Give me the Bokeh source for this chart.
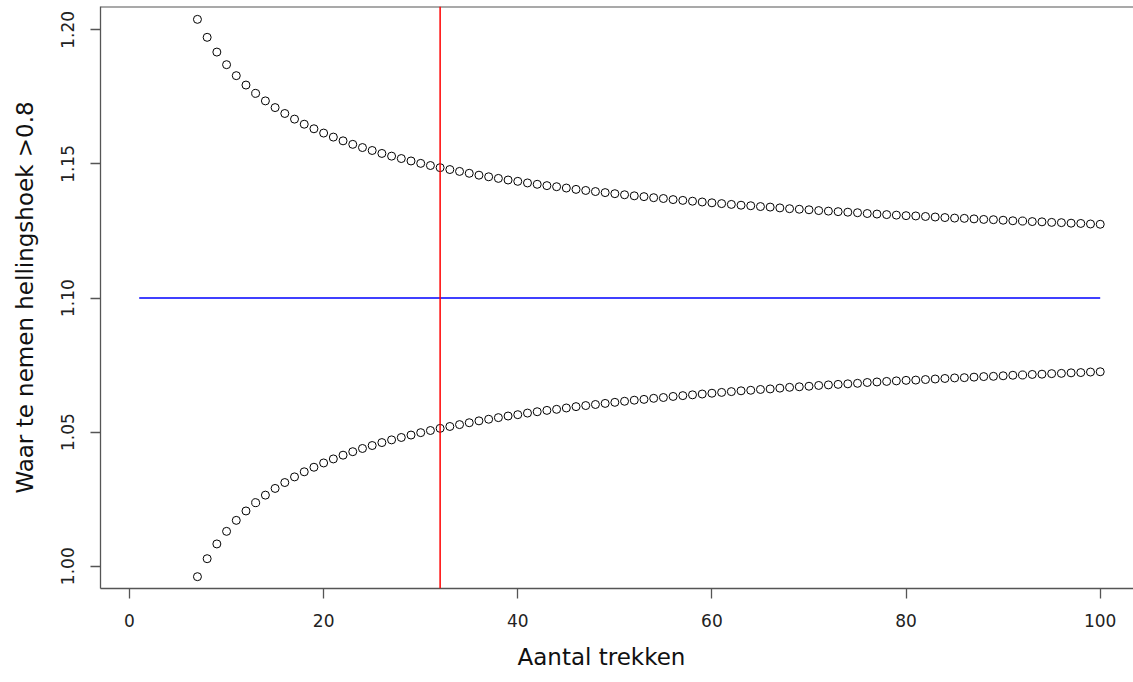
from bokeh.plotting import figure
from bokeh.models import Range1d, FixedTicker, LinearAxis, Span, CustomJSTickFormatter, Title
from bokeh.embed import file_html
from bokeh.resources import INLINE

# ---- data ----
trekken = [
    7, 8, 9, 10, 11, 12, 13, 14, 15, 16,
    17, 18, 19, 20, 21, 22, 23, 24, 25, 26,
    27, 28, 29, 30, 31, 32, 33, 34, 35, 36,
    37, 38, 39, 40, 41, 42, 43, 44, 45, 46,
    47, 48, 49, 50, 51, 52, 53, 54, 55, 56,
    57, 58, 59, 60, 61, 62, 63, 64, 65, 66,
    67, 68, 69, 70, 71, 72, 73, 74, 75, 76,
    77, 78, 79, 80, 81, 82, 83, 84, 85, 86,
    87, 88, 89, 90, 91, 92, 93, 94, 95, 96,
    97, 98, 99, 100,
]
bovengrens = [
    1.2039, 1.1972, 1.1917, 1.1870, 1.1829, 1.1794, 1.1763, 1.1735, 1.1710, 1.1688,
    1.1667, 1.1648, 1.1631, 1.1615, 1.1600, 1.1586, 1.1573, 1.1561, 1.1550, 1.1539,
    1.1529, 1.1520, 1.1511, 1.1502, 1.1494, 1.1486, 1.1479, 1.1472, 1.1465, 1.1458,
    1.1452, 1.1446, 1.1440, 1.1435, 1.1429, 1.1424, 1.1419, 1.1415, 1.1410, 1.1405,
    1.1401, 1.1397, 1.1393, 1.1389, 1.1385, 1.1381, 1.1378, 1.1374, 1.1371, 1.1367,
    1.1364, 1.1361, 1.1358, 1.1355, 1.1352, 1.1349, 1.1346, 1.1344, 1.1341, 1.1339,
    1.1336, 1.1333, 1.1331, 1.1329, 1.1326, 1.1324, 1.1322, 1.1320, 1.1318, 1.1315,
    1.1313, 1.1311, 1.1309, 1.1307, 1.1306, 1.1304, 1.1302, 1.1300, 1.1298, 1.1297,
    1.1295, 1.1293, 1.1292, 1.1290, 1.1288, 1.1287, 1.1285, 1.1284, 1.1282, 1.1281,
    1.1279, 1.1278, 1.1276, 1.1275,
]
ondergrens = [
    0.9961, 1.0028, 1.0083, 1.0130, 1.0171, 1.0206, 1.0237, 1.0265, 1.0290, 1.0312,
    1.0333, 1.0352, 1.0369, 1.0385, 1.0400, 1.0414, 1.0427, 1.0439, 1.0450, 1.0461,
    1.0471, 1.0480, 1.0489, 1.0498, 1.0506, 1.0514, 1.0521, 1.0528, 1.0535, 1.0542,
    1.0548, 1.0554, 1.0560, 1.0565, 1.0571, 1.0576, 1.0581, 1.0585, 1.0590, 1.0595,
    1.0599, 1.0603, 1.0607, 1.0611, 1.0615, 1.0619, 1.0622, 1.0626, 1.0629, 1.0633,
    1.0636, 1.0639, 1.0642, 1.0645, 1.0648, 1.0651, 1.0654, 1.0656, 1.0659, 1.0661,
    1.0664, 1.0667, 1.0669, 1.0671, 1.0674, 1.0676, 1.0678, 1.0680, 1.0682, 1.0685,
    1.0687, 1.0689, 1.0691, 1.0693, 1.0694, 1.0696, 1.0698, 1.0700, 1.0702, 1.0703,
    1.0705, 1.0707, 1.0708, 1.0710, 1.0712, 1.0713, 1.0715, 1.0716, 1.0718, 1.0719,
    1.0721, 1.0722, 1.0724, 1.0725,
]
ref_x = [1, 100]
ref_y = [1.1, 1.1]
grens_trekken = 32

x_ticks = [0, 20, 40, 60, 80, 100]
y_ticks = [1.00, 1.05, 1.10, 1.15, 1.20]
x_title = "Aantal trekken"
y_title = "Waar te nemen hellingshoek >0.8"

FONT = "DejaVu Sans"
AXIS_COL = "#555555"
Y_TOP = 1.20869

p = figure(
    width=1133, height=682,
    x_range=Range1d(-2.987, 103.43), y_range=Range1d(0.99169, Y_TOP),
    output_backend="svg", toolbar_location=None,
    x_axis_location=None, y_axis_location=None,
    min_border_left=100, min_border_right=0, min_border_top=6, min_border_bottom=94,
)
p.outline_line_color = None
p.xgrid.visible = False
p.ygrid.visible = False
p.background_fill_color = "white"
p.border_fill_color = "white"

xaxis = LinearAxis(ticker=FixedTicker(ticks=x_ticks))
yaxis = LinearAxis(ticker=FixedTicker(ticks=y_ticks), axis_label=y_title,
                   formatter=CustomJSTickFormatter(code="return tick.toFixed(2);"))
for ax in (xaxis, yaxis):
    ax.axis_line_color = AXIS_COL
    ax.axis_line_width = 1.3
    ax.major_tick_line_color = AXIS_COL
    ax.major_tick_line_width = 1.3
    ax.major_tick_in = 0
    ax.major_tick_out = 10
    ax.minor_tick_line_color = None
    ax.major_label_text_font = FONT
    ax.major_label_text_font_size = "17px"
    ax.major_label_text_color = "#222222"
    ax.axis_label_text_font = FONT
    ax.axis_label_text_font_size = "23px"
    ax.axis_label_text_font_style = "normal"
    ax.axis_label_text_color = "#111111"
xaxis.major_label_standoff = 15
yaxis.major_label_standoff = 16
yaxis.major_label_orientation = "vertical"
yaxis.axis_label_standoff = 21
p.add_layout(xaxis, "below")
p.add_layout(yaxis, "left")

p.add_layout(Title(text=x_title, align="left", offset=417, standoff=25,
                   text_font=FONT, text_font_size="23px", text_font_style="normal",
                   text_color="#111111"), "below")

top_line = Span(location=Y_TOP, dimension="width", line_color=AXIS_COL, line_width=2)
p.add_layout(top_line)

p.line(ref_x, ref_y, line_color="#0000ff", line_width=1.5)
p.add_layout(Span(location=grens_trekken, dimension="height", line_color="#ff0000", line_width=1.5))

p.scatter(trekken, bovengrens, size=8, marker="circle", fill_color=None, line_color="black", line_width=1)
p.scatter(trekken, ondergrens, size=8, marker="circle", fill_color=None, line_color="black", line_width=1)

open("out.html", "w").write(file_html(p, INLINE))
